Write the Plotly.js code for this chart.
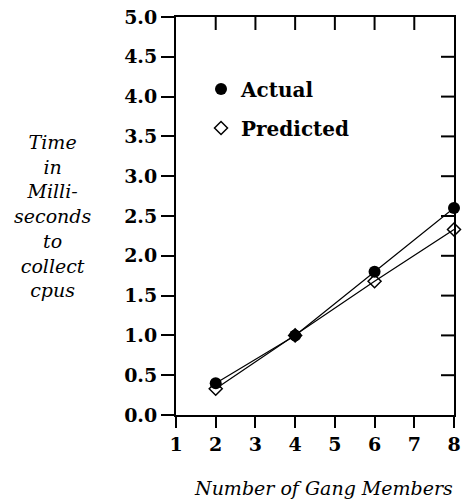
<!DOCTYPE html>
<html><head><meta charset="utf-8">
<script src="https://cdn.plot.ly/plotly-3.0.1.min.js"></script>
<style>html,body{margin:0;padding:0;background:#fff}#chart{width:462px;height:503px}</style>
</head><body><div id="chart"></div>
<script>
const gangMembers = [2, 4, 6, 8];
const actual = [0.40, 1.00, 1.80, 2.60];
const predicted = [0.33, 1.00, 1.68, 2.33];
const xTicks = [1, 2, 3, 4, 5, 6, 7, 8];
const yTicks = [0, 0.5, 1, 1.5, 2, 2.5, 3, 3.5, 4, 4.5, 5];
const yTickText = yTicks.map(v => v.toFixed(1));
const xRange = [1, 8];
const yRange = [0, 5];

const W = 462, H = 503, M = {l: 176, r: 8, t: 17, b: 88};
const tickPx = 13;
const tickFracY = tickPx / (H - M.t - M.b);
const tickFracX = tickPx / (W - M.l - M.r);

// mirrored inside ticks on the top and right edges, placed on the axes' own scales
const tickShapes = [];
xTicks.slice(1, -1).forEach(v => tickShapes.push({type: 'line', layer: 'above', xref: 'x', yref: 'paper',
  x0: v, x1: v, y0: 1, y1: 1 - tickFracY, line: {color: '#000', width: 2}}));
yTicks.slice(1, -1).forEach(v => tickShapes.push({type: 'line', layer: 'above', xref: 'paper', yref: 'y',
  x0: 1, x1: 1 - tickFracX, y0: v, y1: v, line: {color: '#000', width: 2}}));

const serif = '"DejaVu Serif", serif';
const traces = [
  {x: gangMembers, y: actual, mode: 'lines+markers', showlegend: false, cliponaxis: false,
   line: {color: '#000', width: 1.2},
   marker: {symbol: 'circle', size: 12, color: '#000'}},
  {x: gangMembers, y: predicted, mode: 'lines+markers', showlegend: false, cliponaxis: false,
   line: {color: '#000', width: 1.2},
   marker: {symbol: 'diamond-open', size: 10, color: '#000', line: {width: 1.5}}},
  {x: [null], y: [null], mode: 'markers', name: 'Actual', legendgroup: 'a',
   marker: {symbol: 'circle', size: 12, color: '#000'}},
  {x: [null], y: [null], mode: 'markers', name: 'Predicted', legendgroup: 'p',
   marker: {symbol: 'diamond-open', size: 10, color: '#000', line: {width: 1.5}}}
];
const layout = {
  width: W, height: H,
  margin: M,
  paper_bgcolor: '#fff', plot_bgcolor: '#fff',
  font: {family: serif, color: '#000'},
  showlegend: true,
  legend: {x: 0.09, y: 0.868, xanchor: 'left', yanchor: 'top', bgcolor: 'rgba(0,0,0,0)',
           font: {family: serif, size: 20, weight: 'bold', color: '#000'}, tracegroupgap: 10},
  xaxis: {range: xRange, tickvals: xTicks, ticks: 'outside', ticklen: 11, tickwidth: 2, tickcolor: '#000',
          mirror: true, showline: true, linewidth: 2, linecolor: '#000', showgrid: false, zeroline: false,
          tickfont: {family: serif, size: 19, weight: 'bold'}},
  yaxis: {range: yRange, tickvals: yTicks, ticktext: yTickText, ticks: 'outside', ticklen: 13, tickwidth: 2,
          tickcolor: '#000', mirror: true, showline: true, linewidth: 2, linecolor: '#000', showgrid: false,
          zeroline: false, ticklabelstandoff: 0,
          tickfont: {family: serif, size: 19, weight: 'bold'}},
  shapes: tickShapes,
  annotations: [
    {xref: 'paper', yref: 'paper', x: 0.53, y: -0.183, xanchor: 'center', yanchor: 'middle', showarrow: false,
     text: '<i>Number of Gang Members</i>', font: {family: serif, size: 19}},
    {xref: 'paper', yref: 'paper', x: -0.445, y: 0.50, xanchor: 'center', yanchor: 'middle', showarrow: false,
     align: 'center', text: '<i>Time<br>in<br>Milli-<br>seconds<br>to<br>collect<br>cpus</i>', font: {family: serif, size: 19}}
  ]
};
Plotly.newPlot('chart', traces, layout, {displayModeBar: false, staticPlot: true});
</script></body></html>
